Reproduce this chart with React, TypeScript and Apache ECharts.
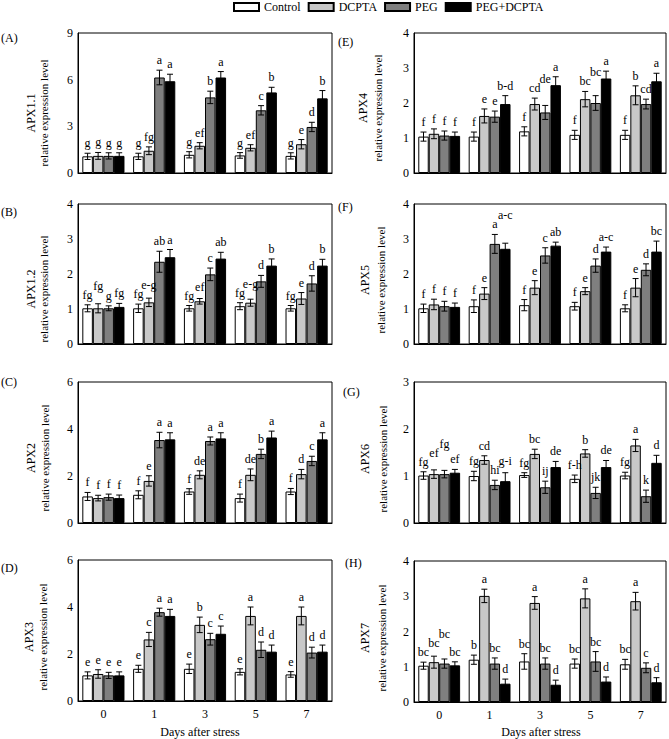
import React, { useEffect, useRef } from "react";
import * as echarts from "echarts";

const days = ["0", "1", "3", "5", "7"];
const treatments = ["Control", "DCPTA", "PEG", "PEG+DCPTA"];
const barColors = ["#ffffff", "#c8c8c8", "#7f7f7f", "#000000"];

// values per day: [Control, DCPTA, PEG, PEG+DCPTA]
const apx11Mean = [[1.07, 1.1, 1.1, 1.1], [1.07, 1.43, 6.14, 5.9], [1.17, 1.75, 4.86, 6.14], [1.13, 1.62, 4.03, 5.18], [1.1, 1.85, 2.96, 4.8]];
const apx11Err = [[0.2, 0.22, 0.2, 0.2], [0.2, 0.25, 0.47, 0.45], [0.2, 0.2, 0.4, 0.38], [0.18, 0.2, 0.3, 0.33], [0.2, 0.3, 0.3, 0.5]];
const apx11Letters = [["g", "g", "g", "g"], ["g", "fg", "a", "a"], ["g", "ef", "b", "a"], ["g", "ef", "c", "b"], ["g", "e", "d", "b"]];

const apx12Mean = [[1.02, 1.02, 1.02, 1.06], [1.02, 1.19, 2.35, 2.48], [1.02, 1.22, 1.99, 2.44], [1.08, 1.18, 1.79, 2.24], [1.02, 1.3, 1.73, 2.24]];
const apx12Err = [[0.1, 0.13, 0.07, 0.1], [0.12, 0.12, 0.3, 0.22], [0.08, 0.08, 0.18, 0.18], [0.1, 0.1, 0.17, 0.19], [0.08, 0.17, 0.22, 0.18]];
const apx12Letters = [["fg", "fg", "g", "fg"], ["fg", "e-g", "ab", "a"], ["fg", "ef", "c", "ab"], ["fg", "e-g", "d", "b"], ["fg", "e", "d", "b"]];

const apx2Mean = [[1.13, 1.06, 1.1, 1.06], [1.2, 1.79, 3.53, 3.56], [1.34, 2.05, 3.49, 3.6], [1.06, 2.05, 2.94, 3.64], [1.34, 2.08, 2.64, 3.56]];
const apx2Err = [[0.17, 0.12, 0.13, 0.13], [0.17, 0.22, 0.33, 0.28], [0.12, 0.17, 0.17, 0.24], [0.17, 0.25, 0.2, 0.27], [0.13, 0.2, 0.2, 0.28]];
const apx2Letters = [["f", "f", "f", "f"], ["f", "e", "a", "a"], ["f", "de", "a", "a"], ["f", "de", "b", "a"], ["f", "d", "c", "a"]];

const apx3Mean = [[1.09, 1.15, 1.09, 1.09], [1.37, 2.62, 3.78, 3.62], [1.37, 3.24, 2.63, 2.86], [1.24, 3.62, 2.18, 2.1], [1.13, 3.62, 2.06, 2.1]];
const apx3Err = [[0.15, 0.18, 0.13, 0.15], [0.15, 0.3, 0.17, 0.28], [0.2, 0.33, 0.25, 0.33], [0.13, 0.38, 0.33, 0.28], [0.12, 0.38, 0.23, 0.28]];
const apx3Letters = [["e", "e", "e", "e"], ["e", "c", "a", "a"], ["e", "b", "c", "c"], ["e", "a", "d", "d"], ["e", "a", "d", "d"]];

const apx4Mean = [[1.04, 1.12, 1.07, 1.06], [1.04, 1.63, 1.61, 1.97], [1.19, 1.97, 1.73, 2.51], [1.09, 2.11, 2.0, 2.7], [1.09, 2.22, 1.97, 2.62]];
const apx4Err = [[0.13, 0.14, 0.13, 0.11], [0.13, 0.2, 0.16, 0.24], [0.13, 0.17, 0.2, 0.24], [0.13, 0.22, 0.21, 0.21], [0.13, 0.27, 0.14, 0.23]];
const apx4Letters = [["f", "f", "f", "f"], ["f", "e", "e", "b-d"], ["f", "cd", "de", "a"], ["f", "bc", "bc", "a"], ["f", "b", "cd", "a"]];

const apx5Mean = [[1.02, 1.13, 1.08, 1.06], [1.08, 1.44, 2.86, 2.72], [1.11, 1.61, 2.53, 2.81], [1.08, 1.51, 2.24, 2.64], [1.02, 1.61, 2.12, 2.64]];
const apx5Err = [[0.12, 0.15, 0.14, 0.11], [0.18, 0.17, 0.27, 0.16], [0.16, 0.2, 0.22, 0.1], [0.11, 0.1, 0.19, 0.13], [0.1, 0.26, 0.17, 0.3]];
const apx5Letters = [["f", "f", "f", "f"], ["f", "e", "a", "a-c"], ["f", "e", "c", "ab"], ["f", "e", "d", "a-c"], ["f", "e", "d", "bc"]];

const apx6Mean = [[1.01, 1.04, 1.04, 1.07], [1.0, 1.34, 0.81, 0.89], [1.02, 1.47, 0.76, 1.19], [0.94, 1.48, 0.64, 1.19], [1.01, 1.65, 0.57, 1.28]];
const apx6Err = [[0.08, 0.09, 0.08, 0.07], [0.1, 0.09, 0.1, 0.18], [0.05, 0.1, 0.13, 0.12], [0.08, 0.08, 0.12, 0.14], [0.07, 0.13, 0.13, 0.16]];
const apx6Letters = [["fg", "ef", "fg", "ef"], ["fg", "cd", "hi", "g-i"], ["fg", "bc", "ij", "de"], ["f-h", "b", "jk", "de"], ["fg", "a", "k", "d"]];

const apx7Mean = [[1.03, 1.13, 1.09, 1.04], [1.2, 3.01, 1.09, 0.52], [1.15, 2.81, 1.09, 0.49], [1.09, 2.94, 1.15, 0.58], [1.07, 2.86, 0.97, 0.56]];
const apx7Err = [[0.1, 0.17, 0.13, 0.1], [0.13, 0.19, 0.16, 0.13], [0.22, 0.18, 0.16, 0.13], [0.13, 0.27, 0.28, 0.13], [0.14, 0.25, 0.14, 0.13]];
const apx7Letters = [["bc", "bc", "bc", "bc"], ["b", "a", "bc", "d"], ["bc", "a", "bc", "d"], ["bc", "a", "bc", "d"], ["bc", "a", "c", "d"]];

const FONT = "'Liberation Serif', serif";
const CAT_GAP = 0.17;

type Panel = {
  tag: string; gene: string; mean: number[][]; err: number[][]; letters: string[][];
  max: number; interval: number;
  left: number; top: number; width: number; height: number;
  bottom: boolean; labelX: number; nameX: number; nameY: number; tagX: number; tagY: number;
};

const LW = 254, RW = 252, LL = 78, RL = 414;
const panels: Panel[] = [
  { tag: "(A)", gene: "APX1.1", mean: apx11Mean, err: apx11Err, letters: apx11Letters, max: 9, interval: 3, left: LL, top: 33, width: LW, height: 140, bottom: false, labelX: 31, nameX: 44, nameY: 113, tagX: 1, tagY: 38 },
  { tag: "(B)", gene: "APX1.2", mean: apx12Mean, err: apx12Err, letters: apx12Letters, max: 4, interval: 1, left: LL, top: 204, width: LW, height: 140, bottom: false, labelX: 31, nameX: 44, nameY: 289, tagX: 1, tagY: 212 },
  { tag: "(C)", gene: "APX2", mean: apx2Mean, err: apx2Err, letters: apx2Letters, max: 6, interval: 2, left: LL, top: 382, width: LW, height: 141, bottom: false, labelX: 31, nameX: 45, nameY: 458, tagX: 1, tagY: 382 },
  { tag: "(D)", gene: "APX3", mean: apx3Mean, err: apx3Err, letters: apx3Letters, max: 6, interval: 2, left: LL, top: 560, width: LW, height: 141, bottom: true, labelX: 29, nameX: 43, nameY: 637, tagX: 1, tagY: 568 },
  { tag: "(E)", gene: "APX4", mean: apx4Mean, err: apx4Err, letters: apx4Letters, max: 4, interval: 1, left: RL, top: 33, width: RW, height: 140, bottom: false, labelX: 363, nameX: 378, nameY: 108, tagX: 338, tagY: 42 },
  { tag: "(F)", gene: "APX5", mean: apx5Mean, err: apx5Err, letters: apx5Letters, max: 4, interval: 1, left: RL, top: 204, width: RW, height: 140, bottom: false, labelX: 365, nameX: 381, nameY: 280, tagX: 338, tagY: 207 },
  { tag: "(G)", gene: "APX6", mean: apx6Mean, err: apx6Err, letters: apx6Letters, max: 3, interval: 1, left: RL, top: 382, width: RW, height: 141, bottom: false, labelX: 365, nameX: 383, nameY: 459, tagX: 343, tagY: 392 },
  { tag: "(H)", gene: "APX7", mean: apx7Mean, err: apx7Err, letters: apx7Letters, max: 4, interval: 1, left: RL, top: 561, width: RW, height: 141, bottom: true, labelX: 365, nameX: 382, nameY: 638, tagX: 345, tagY: 563 },
];

const charW: Record<string, number> = { a: 5.3, b: 6, c: 5.3, d: 6, e: 5.3, f: 4, g: 6, h: 6, i: 3.3, j: 3.3, k: 6, "-": 4 };
const textW = (s: string) => s.split("").reduce((w, c) => w + (charW[c] ?? 6), 0);

function buildOption() {
  const grid: any[] = [];
  const xAxis: any[] = [];
  const yAxis: any[] = [];
  const series: any[] = [];
  const graphic: any[] = [];

  panels.forEach((p, pi) => {
    grid.push({ left: p.left, top: p.top, width: p.width, height: p.height, show: true, borderColor: "#000", borderWidth: 1, backgroundColor: "transparent" });
    xAxis.push({
      type: "category", gridIndex: pi, data: days,
      axisLine: { show: true, lineStyle: { color: "#000", width: 1 } },
      axisTick: { show: false },
      axisLabel: { show: p.bottom, color: "#000", fontSize: 12, fontFamily: FONT, margin: 7 },
    });
    yAxis.push({
      type: "value", gridIndex: pi, min: 0, max: p.max, interval: p.interval,
      axisLine: { show: true, lineStyle: { color: "#000", width: 1 } },
      axisTick: { show: false },
      splitLine: { show: false },
      axisLabel: { color: "#000", fontSize: 12, fontFamily: FONT, margin: 5 },
    });
    treatments.forEach((t, ti) => {
      series.push({
        type: "bar", name: t, xAxisIndex: pi, yAxisIndex: pi,
        data: p.mean.map((row) => row[ti]),
        barGap: "0%", barCategoryGap: `${CAT_GAP * 100}%`,
        itemStyle: { color: barColors[ti], borderColor: "#000", borderWidth: 1 },
        emphasis: { disabled: true },
      });
    });
    series.push({
      type: "custom", xAxisIndex: pi, yAxisIndex: pi, z: 5, clip: false,
      data: days.map((_, i) => [i, 0]),
      encode: { x: 0, y: 1 },
      silent: true,
      renderItem: (params: any, api: any) => {
        const g = api.value(0) as number;
        const band = api.size([1, 0])[0];
        const remained = band * (1 - CAT_GAP);
        const bw = remained / 4;
        const cx = api.coord([g, 0])[0];
        const children: any[] = [];
        const placed: { x: number; y: number; w: number }[] = [];
        for (let t = 0; t < 4; t++) {
          const m = p.mean[g][t];
          const e = p.err[g][t];
          const x = cx - remained / 2 + bw * (t + 0.5);
          const yTop = api.coord([g, m + e])[1];
          const yBot = api.coord([g, m - e])[1];
          const ls = { stroke: "#000", lineWidth: 1 };
          children.push({ type: "line", shape: { x1: x, y1: yBot, x2: x, y2: yTop }, style: ls });
          children.push({ type: "line", shape: { x1: x - 3, y1: yTop, x2: x + 3, y2: yTop }, style: ls });
          children.push({ type: "line", shape: { x1: x - 3, y1: yBot, x2: x + 3, y2: yBot }, style: ls });
          const letter = p.letters[g][t];
          const w = textW(letter);
          let y = yTop - 4;
          let changed = true;
          while (changed) {
            changed = false;
            for (const q of placed) {
              if (Math.abs(q.x - x) < (q.w + w) / 2 + 1 && Math.abs(q.y - y) < 9) {
                y = q.y - 9;
                changed = true;
              }
            }
          }
          placed.push({ x, y, w });
          children.push({
            type: "text", x, y,
            style: { text: letter, fill: "#000", font: `12px ${FONT}`, align: "center", verticalAlign: "bottom" },
          });
        }
        return { type: "group", children };
      },
    });

    graphic.push({
      type: "text", x: p.labelX, y: p.nameY, rotation: Math.PI / 2,
      style: { text: p.gene, fill: "#000", font: `12px ${FONT}`, align: "center", verticalAlign: "middle" },
    });
    graphic.push({
      type: "text", x: p.nameX, y: p.nameY, rotation: Math.PI / 2,
      style: { text: "relative expression level", fill: "#000", font: `11px ${FONT}`, align: "center", verticalAlign: "middle" },
    });
    graphic.push({
      type: "text", x: p.tagX, y: p.tagY,
      style: { text: p.tag, fill: "#000", font: `12px ${FONT}`, align: "left", verticalAlign: "middle" },
    });
  });

  graphic.push({ type: "text", x: 200, y: 732, style: { text: "Days after stress", fill: "#000", font: `12px ${FONT}`, align: "center", verticalAlign: "middle" } });
  graphic.push({ type: "text", x: 541, y: 732, style: { text: "Days after stress", fill: "#000", font: `12px ${FONT}`, align: "center", verticalAlign: "middle" } });

  return {
    animation: false,
    backgroundColor: "#ffffff",
    textStyle: { fontFamily: FONT },
    legend: {
      data: treatments, left: 233, top: 1, padding: 0, itemWidth: 25, itemHeight: 8, itemGap: 7,
      icon: "rect", selectedMode: false,
      textStyle: { color: "#000", fontSize: 12, fontFamily: FONT },
    },
    grid, xAxis, yAxis, series, graphic,
  };
}

export default function App() {
  const ref = useRef<HTMLDivElement>(null);
  useEffect(() => {
    if (!ref.current) return;
    const chart = echarts.init(ref.current, undefined, { renderer: "svg" });
    chart.setOption(buildOption() as any);
    return () => chart.dispose();
  }, []);
  return <div ref={ref} style={{ position: "fixed", left: 0, top: 0, width: 669, height: 739, background: "#fff" }} />;
}
